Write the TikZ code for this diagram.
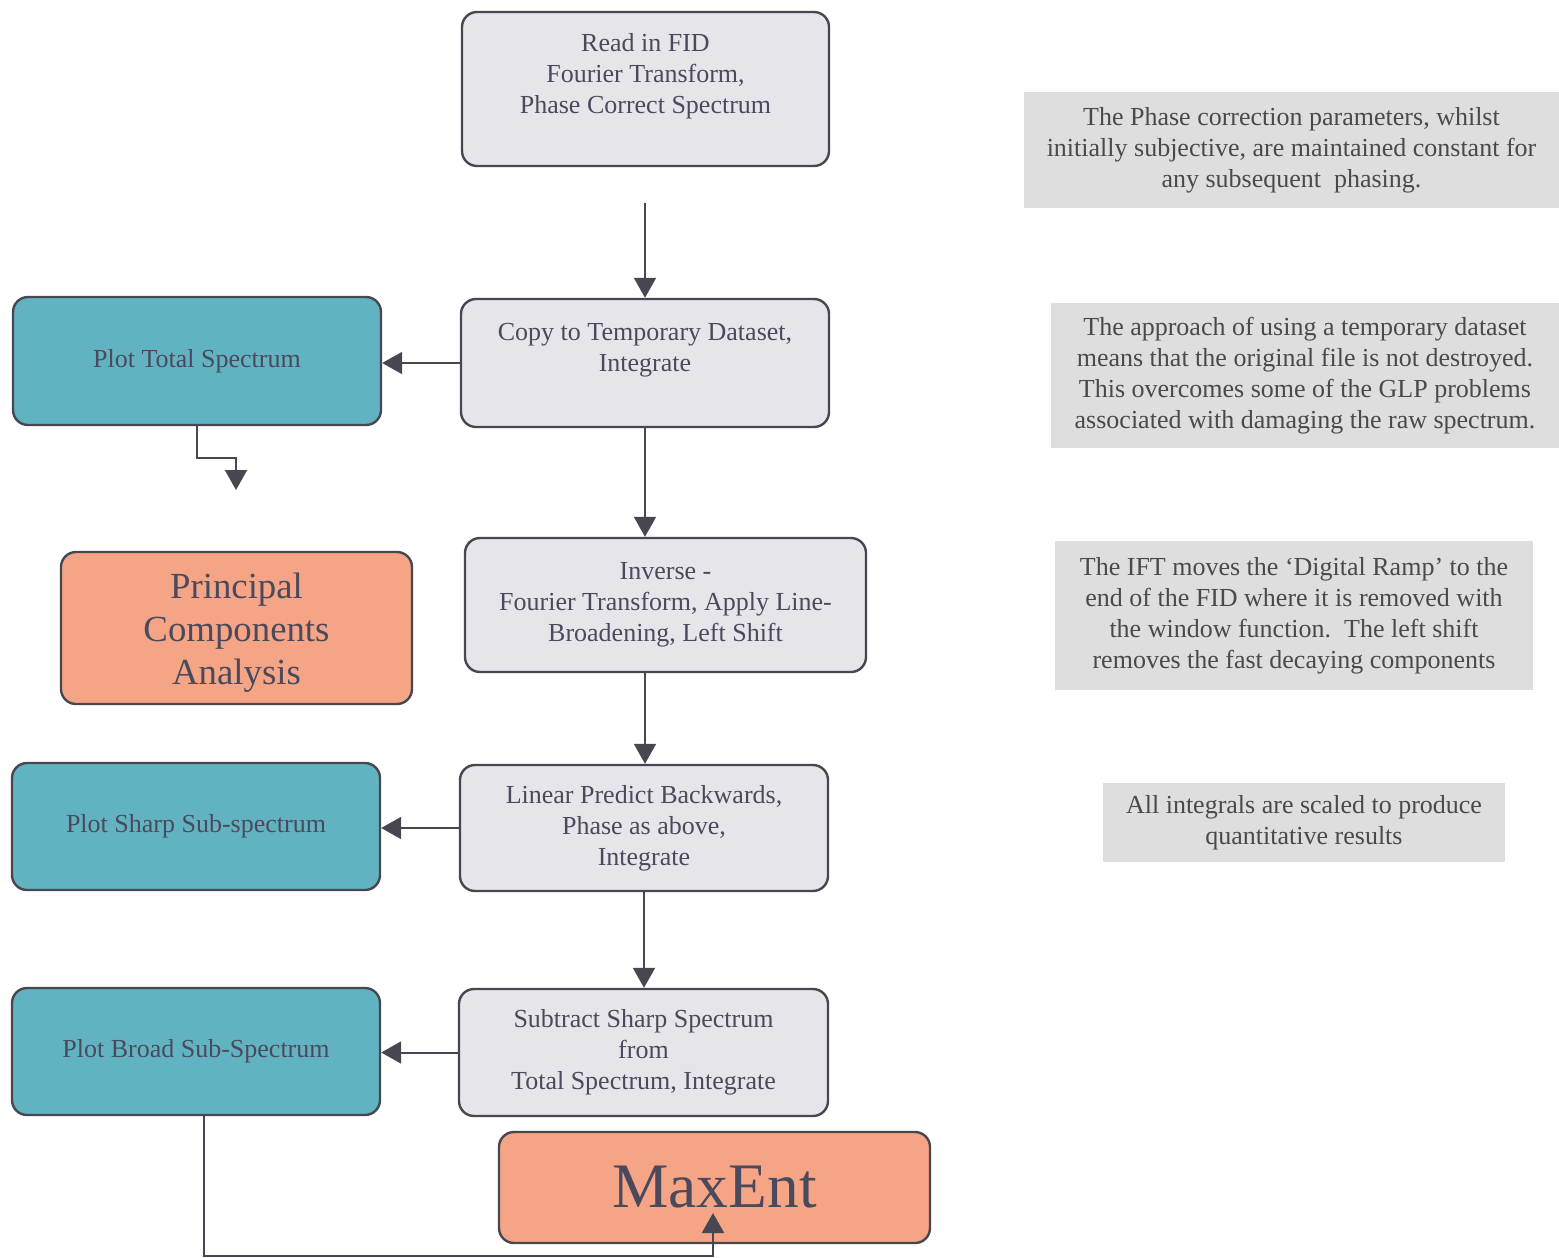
\documentclass[tikz,border=0pt]{standalone}
\usepackage{fontspec}
\setmainfont{Liberation Serif}
\usetikzlibrary{arrows.meta}
\definecolor{procfill}{HTML}{E6E6EA}
\definecolor{tealfill}{HTML}{62B3C1}
\definecolor{orfill}{HTML}{F5A586}
\definecolor{edge}{HTML}{474752}
\definecolor{txt}{HTML}{4A4A5C}
\definecolor{notefill}{HTML}{DEDEDE}
\definecolor{notetxt}{HTML}{4A4A4A}
\tikzset{
  boxbase/.style={rectangle, rounded corners=7.5pt, draw=edge, line width=1.2pt, inner sep=0pt, align=center, text=txt, font=\fontsize{13}{15.5}\selectfont},
  procbox/.style={boxbase, fill=procfill},
  tealbox/.style={boxbase, fill=tealfill},
  orbox/.style={boxbase, fill=orfill},
  notebox/.style={rectangle, fill=notefill, inner sep=0pt, align=center, text=notetxt, font=\fontsize{13}{15.5}\selectfont},
  conn/.style={draw=edge, line width=1pt, -{Triangle[width=11pt,length=10pt]}},
  plainconn/.style={draw=edge, line width=1pt}
}
\begin{document}
\begin{tikzpicture}[x=0.5pt,y=-0.5pt]
\useasboundingbox (0,0) rectangle (1559,1258);
% process boxes
\node[procbox, minimum width=183.5pt, minimum height=77pt] (fid) at (645.5,89) {Read in FID\\Fourier Transform,\\Phase Correct Spectrum\\\mbox{}};
\node[procbox, minimum width=184pt, minimum height=64pt] (copy) at (645,363) {Copy to Temporary Dataset,\\Integrate\\\mbox{}};
\node[procbox, minimum width=200.5pt, minimum height=67pt] (inv) at (665.5,605) {Inverse -\\Fourier Transform, Apply Line-\\Broadening, Left Shift};
\node[procbox, minimum width=184pt, minimum height=63pt] (lin) at (644,828) {Linear Predict Backwards,\\Phase as above,\\Integrate};
\node[procbox, minimum width=184.5pt, minimum height=63.5pt] (sub) at (643.5,1052.5) {Subtract Sharp Spectrum\\from\\Total Spectrum, Integrate};
% side boxes
\node[tealbox, minimum width=184pt, minimum height=64pt] (ptot) at (197,361) {Plot Total Spectrum};
\node[orbox, minimum width=175.5pt, minimum height=76pt,
  label={[align=center, text=txt, font=\fontsize{18.4}{21.5}\selectfont, yshift=-2.5pt]center:{Principal\\Components\\Analysis}}] (pca) at (236.5,628) {};
\node[tealbox, minimum width=184pt, minimum height=63.5pt] (psharp) at (196,826.5) {Plot Sharp Sub-spectrum};
\node[tealbox, minimum width=184pt, minimum height=63.5pt] (pbroad) at (196,1051.5) {Plot Broad Sub-Spectrum};
\node[orbox, minimum width=215.5pt, minimum height=55.5pt, font=\fontsize{31.7}{36}\selectfont] (maxent) at (714.5,1187.5) {MaxEnt};
% notes
\node[notebox, minimum width=267.5pt, minimum height=58pt] (n1) at (1291.5,150) {The Phase correction parameters, whilst\\initially subjective, are maintained constant for\\any subsequent\ \ phasing.};
\node[notebox, minimum width=254pt, minimum height=72.5pt] (n2) at (1305,375.5) {The approach of using a temporary dataset\\means that the original file is not destroyed.\\This overcomes some of the GLP problems\\associated with damaging the raw spectrum.};
\node[notebox, minimum width=239pt, minimum height=74.5pt] (n3) at (1294,615.5) {The IFT moves the `Digital Ramp' to the\\end of the FID where it is removed with\\the window function.\ \ The left shift\\removes the fast decaying components};
\node[notebox, minimum width=201pt, minimum height=39.5pt] (n4) at (1304,822.5) {All integrals are scaled to produce\\quantitative results};
% connectors
\coordinate (fidout) at (645,203);
\draw[conn] (fidout) -- (copy.north);
\draw[conn] (copy.south) -- (inv.north -| copy.south);
\draw[conn] (inv.south -| copy.south) -- (lin.north -| copy.south);
\draw[conn] (lin.south) -- (sub.north -| lin.south);
\draw[conn] (copy.west) -- (ptot.east |- copy.west);
\draw[conn] (lin.west) -- (psharp.east |- lin.west);
\draw[conn] (sub.west) -- (pbroad.east |- sub.west);
\coordinate (tb1) at (197,458);
\coordinate (tb2) at (236,458);
\coordinate (tb3) at (236,490);
\draw[conn] (ptot.south) -- (tb1) -- (tb2) -- (tb3);
\coordinate (bb1) at (204,1256);
\coordinate (bb2) at (713,1256);
\coordinate (bb3) at (713,1213);
\draw[conn] (pbroad.south -| bb1) -- (bb1) -- (bb2) -- (bb3);
\end{tikzpicture}
\end{document}
